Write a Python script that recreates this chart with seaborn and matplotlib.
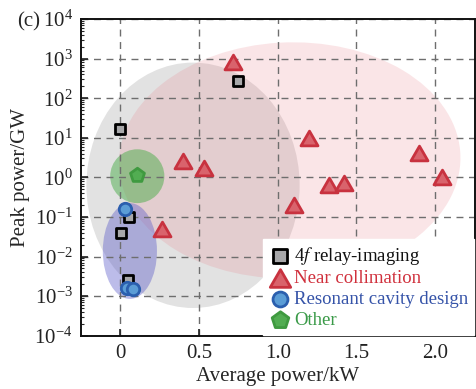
import numpy as np
import pandas as pd
import matplotlib
matplotlib.use("Agg")
import matplotlib.pyplot as plt
from matplotlib.patches import Ellipse
from matplotlib.path import Path
from matplotlib.ticker import LogLocator, LogFormatterSciNotation, FixedLocator, NullFormatter
import seaborn as sns

# ---- data: average power (kW) vs peak power (GW) ----
relay_x = [0.00, 0.75, 0.058, 0.006, 0.049]
relay_y = [17.0, 270.0, 0.10, 0.039, 0.0025]

collim_x = [0.717, 0.40, 0.53, 1.20, 1.325, 1.42, 1.90, 2.04, 1.103, 0.264]
collim_y = [830.0, 2.6, 1.7, 10.0, 0.66, 0.72, 4.1, 1.0, 0.20, 0.050]

cavity_x = [0.032, 0.042, 0.080]
cavity_y = [0.16, 0.0016, 0.0015]

other_x = [0.108]
other_y = [1.15]

xticks = [0, 0.5, 1.0, 1.5, 2.0]
xtick_labels = ["0", "0.5", "1.0", "1.5", "2.0"]

XLIM = (-0.25, 2.25)
YLIM_DEC = (-4, 4)

# shaded regions: (x centre kW, log10 centre, half-width kW, half-height decades, angle, colour, alpha)
regions = [
    (0.462, -0.20, 0.677, 3.10, 0, "#a0a0a0", 0.30),
    (1.076, 0.43, 1.085, 2.98, 4, "#e8707c", 0.18),
    (0.108, 0.03, 0.172, 0.68, 0, "#3aa83a", 0.45),
    (0.061, -1.86, 0.172, 1.21, 0, "#5858c8", 0.40),
]

sns.set_style("ticks")
plt.rcParams["font.family"] = ["Liberation Serif", "DejaVu Serif"]
plt.rcParams["mathtext.fontset"] = "stix"

fig = plt.figure(figsize=(4.76, 3.89), dpi=100)
ax = fig.add_axes([0.170, 0.137, 0.827, 0.814])

ax.set_xscale("linear")
ax.set_yscale("log")
ax.set_xlim(*XLIM)
ax.set_ylim(10.0 ** YLIM_DEC[0], 10.0 ** YLIM_DEC[1])

xspan = XLIM[1] - XLIM[0]
yspan = YLIM_DEC[1] - YLIM_DEC[0]
for cx, cy, hw, hh, ang, col, a in regions:
    e = Ellipse(((cx - XLIM[0]) / xspan, (cy - YLIM_DEC[0]) / yspan),
                2 * hw / xspan, 2 * hh / yspan, angle=ang,
                transform=ax.transAxes, facecolor=col, edgecolor="none",
                alpha=a, zorder=0.5)
    ax.add_patch(e)

tri = Path([(-1, -0.866), (1, -0.866), (0, 0.866), (-1, -0.866)],
           [Path.MOVETO, Path.LINETO, Path.LINETO, Path.CLOSEPOLY])

groups = [
    (relay_x, relay_y, "4$\\it{f}$ relay-imaging", "s", 62, "#a8a8aa", "#000000", "#111111"),
    (collim_x, collim_y, "Near collimation", tri, 150, "#d9636c", "#c8323f", "#d0303c"),
    (cavity_x, cavity_y, "Resonant cavity design", "o", 80, "#5b9dd6", "#2b5fae", "#3553a8"),
    (other_x, other_y, "Other", "p", 110, "#52ad52", "#3f9a40", "#3a9a48"),
]
text_colors = []
for gx, gy, lab, mk, s, fc, ec, tc in groups:
    df = pd.DataFrame({"Average power/kW": gx, "Peak power/GW": gy})
    sns.scatterplot(data=df, x="Average power/kW", y="Peak power/GW", ax=ax,
                    marker=mk, s=s, color=fc, edgecolor=ec, linewidth=2.0,
                    label=lab, zorder=3)
    text_colors.append(tc)

ax.set_axisbelow("line")
ax.grid(True, which="major", color="#6e6e6e", linestyle=(0, (5, 4)), linewidth=1.0)

ax.xaxis.set_major_locator(FixedLocator(xticks))
ax.set_xticklabels(xtick_labels)
ax.yaxis.set_major_locator(LogLocator(base=10, numticks=20))
ax.yaxis.set_major_formatter(LogFormatterSciNotation())
ax.yaxis.set_minor_locator(LogLocator(base=10, subs=np.arange(2, 10), numticks=20))
ax.yaxis.set_minor_formatter(NullFormatter())
ax.set_yticks([10.0 ** k for k in range(-4, 5)])

ax.tick_params(axis="both", which="major", direction="in", length=5, width=1.2,
               labelsize=15, colors="#222222", pad=6)
ax.tick_params(axis="y", which="minor", direction="in", length=2.5, width=0.8)
for sp in ax.spines.values():
    sp.set_linewidth(1.4)
    sp.set_color("#111111")

ax.set_xlabel("Average power/kW", fontsize=15, labelpad=3)
ax.set_ylabel("Peak power/GW", fontsize=15, labelpad=3)

leg = ax.legend(loc="lower right", fontsize=13.5, frameon=True, framealpha=1,
                edgecolor="white", fancybox=False, borderaxespad=0.05,
                handletextpad=0.15, labelspacing=0.2, borderpad=0.3,
                handlelength=1.2, markerscale=1.2)
for t, c in zip(leg.get_texts(), text_colors):
    t.set_color(c)

fig.text(0.035, 0.943, "(c)", fontsize=15, va="center", ha="left")

fig.savefig("out.png", dpi=100)
